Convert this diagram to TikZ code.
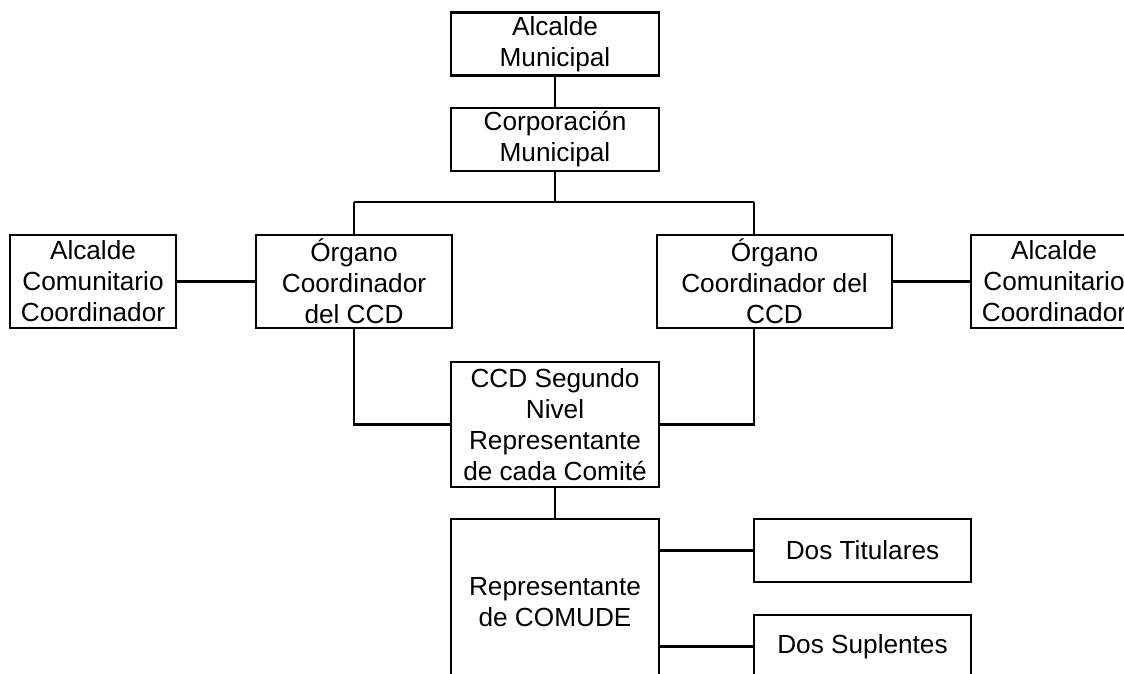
\documentclass[tikz,border=0pt]{standalone}
\usepackage{fontspec}
\setmainfont{Liberation Sans}

\tikzset{
	box/.style={draw,line width=2.5pt,align=center,inner sep=0pt,minimum height=63pt,font=\fontsize{26.2}{31}\selectfont},
	link/.style={line width=2.5pt}
}

\begin{document}
\begin{tikzpicture}[x=1pt,y=-1pt]
	\useasboundingbox (0,0) rectangle (1124,673);
	\clip (0,0) rectangle (1124,673);
	\node[box,minimum width=208pt] (alcMun) at (555,44) {Alcalde\\Municipal};
	\node[box,minimum width=208pt] (corp) at (555,139.5) {Corporación\\Municipal};
	\node[box,minimum width=166pt,minimum height=93pt] (alcL) at (93,281.5) {Alcalde\\Comunitario\\Coordinador};
	\node[box,minimum width=196pt,minimum height=93pt] (orgL) at (354,281.5) {Órgano\\Coordinador\\del CCD};
	\node[box,minimum width=235pt,minimum height=93pt] (orgR) at (774.5,281.5) {Órgano\\Coordinador del\\CCD};
	\node[box,minimum width=166pt,minimum height=93pt] (alcR) at (1054,281.5) {Alcalde\\Comunitario\\Coordinador};
	\node[box,minimum width=208pt,minimum height=125pt] (ccd) at (555,424.5) {CCD Segundo\\Nivel\\Representante\\de cada Comité};
	\node[box,minimum width=208pt,minimum height=166pt] (rep) at (555,602) {Representante\\de COMUDE};
	\node[box,minimum width=217pt] (tit) at (862.5,550.5) {Dos Titulares};
	\node[box,minimum width=217pt] (sup) at (862.5,646.5) {Dos Suplentes};
	\coordinate (jL) at (354,202);
	\coordinate (jR) at (754,202);

	\draw[link] (alcMun) -- (corp);
	\draw[link] (corp) -- (corp |- jL);
	\draw[link] (jL) -- (jR);
	\draw[link] (jL) -- (orgL.north);
	\draw[link] (jR) -- (jR |- orgR.north);
	\draw[link] (alcL) -- (orgL);
	\draw[link] (orgR) -- (alcR);
	\draw[link] (orgL.south) |- (ccd.west);
	\draw[link] (jR |- orgR.south) |- (ccd.east);
	\draw[link] (ccd) -- (rep);
	\draw[link] (tit.west -| rep.east) -- (tit.west);
	\draw[link] (sup.west -| rep.east) -- (sup.west);
\end{tikzpicture}
\end{document}
